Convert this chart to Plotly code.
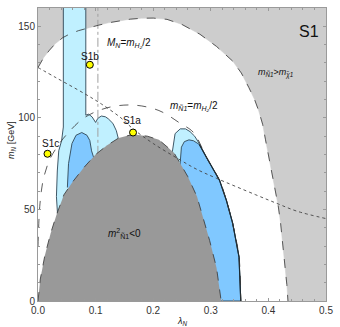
import plotly.graph_objects as go

# ---- data (lambda_N, m_N [GeV]) ----
outer_lam = [0, 0.01, 0.02, 0.03, 0.043, 0.055, 0.07, 0.087, 0.105, 0.122, 0.14, 0.16, 0.18, 0.2, 0.224, 0.25,
             0.281, 0.31, 0.338, 0.353, 0.366, 0.376, 0.383, 0.39, 0.395, 0.4, 0.405, 0.411, 0.417, 0.421,
             0.425, 0.429, 0.432, 0.434]
outer_m   = [127.5, 133, 137, 140.5, 143.8, 145.8, 147.6, 149.2, 150.6, 151.9, 153, 153.9, 154.4, 154.5, 153.8, 151,
             145.7, 139, 131, 124.5, 116.6, 110, 104, 96.5, 88, 80, 71, 61.5, 52, 43, 31.5, 19, 9, 0]

dome_lam = [0, 0.004, 0.012, 0.022, 0.032, 0.045, 0.06, 0.08, 0.1, 0.12, 0.14, 0.165, 0.19, 0.21, 0.236, 0.26, 0.276, 0.298, 0.31, 0.318]
dome_m   = [0, 12, 25, 37, 47, 58, 65, 73, 80, 85, 89, 91, 90, 88, 81, 68, 57, 33, 18, 0]

arc_lam = [0, 0.0034, 0.009, 0.02, 0.035, 0.05, 0.08, 0.12, 0.165, 0.21, 0.247, 0.27, 0.293, 0.315, 0.327, 0.338, 0.349, 0.352]
arc_m   = [30, 53, 66, 77, 85, 91, 100, 105.5, 107, 104, 97, 92, 78, 66, 55, 42, 24, 0]

dot_lam = [0, 0.031, 0.082, 0.11, 0.144, 0.165, 0.2, 0.247, 0.275, 0.31, 0.378, 0.417, 0.45, 0.5]
dot_m   = [127.5, 122, 113, 107.6, 100, 94, 86, 77, 72, 67, 58, 53, 49, 45]

vline_lam = [0.104, 0.104]
vline_m   = [70, 160]

cyan_left_lam = [0.044, 0.044, 0.041, 0.036, 0.0335, 0.032, 0.034, 0.1, 0.141, 0.14, 0.136, 0.13, 0.122, 0.117, 0.11, 0.104, 0.1, 0.094, 0.088, 0.083, 0.083]
cyan_left_m   = [160, 95, 87.6, 82, 71, 57, 47, 50, 85, 88, 93, 97, 99.5, 100.6, 101, 99.8, 97.5, 100.5, 102, 101.5, 160]

cyan_right_lam = [0.234, 0.233, 0.238, 0.247, 0.256, 0.264, 0.272, 0.28, 0.293, 0.315, 0.327, 0.338, 0.349, 0.352, 0.3]
cyan_right_m   = [75, 81, 91.4, 94, 94, 92.5, 90, 86, 78, 66, 55, 42.4, 24, 0, 0]

blue_left_lam = [0.051, 0.053, 0.059, 0.066, 0.076, 0.085, 0.09, 0.093, 0.097, 0.075]
blue_left_m   = [62, 75, 86, 90.5, 92, 90.5, 87.6, 82, 78, 60]

blue_right_lam = [0.246, 0.247, 0.249, 0.254, 0.262, 0.27, 0.28, 0.293, 0.315, 0.327, 0.338, 0.349, 0.352, 0.3]
blue_right_m   = [72, 78, 84, 87, 88, 87.5, 85.5, 78, 66, 55, 42.4, 24, 0, 0]

bench_names = ["S1a", "S1b", "S1c"]
bench_lam   = [0.165, 0.09, 0.0165]
bench_m     = [92, 129, 80.4]

x_ticks = [0.0, 0.1, 0.2, 0.3, 0.4, 0.5]
y_ticks = [0, 50, 100, 150]

LIGHT_GRAY = "#cdcdcd"
DARK_GRAY = "#999999"
CYAN = "#c0f0ff"
BLUE = "#80c8ff"
EDGE = "#2e4656"

fig = go.Figure()

# light gray excluded region (outside the outer boundary)
gray_x = outer_lam + [0.5, 0.5, 0]
gray_y = outer_m + [0, 160, 160]
fig.add_trace(go.Scatter(x=gray_x, y=gray_y, mode="lines", fill="toself",
                         fillcolor=LIGHT_GRAY, line=dict(color=LIGHT_GRAY, width=0.5),
                         hoverinfo="skip", showlegend=False))
# light cyan regions
for lx, ly in [(cyan_left_lam, cyan_left_m), (cyan_right_lam, cyan_right_m)]:
    fig.add_trace(go.Scatter(x=lx, y=ly, mode="lines", fill="toself", fillcolor=CYAN,
                             line=dict(color=EDGE, width=0.9), hoverinfo="skip", showlegend=False))
# vertical dash-dot line
fig.add_trace(go.Scatter(x=vline_lam, y=vline_m, mode="lines",
                         line=dict(color="#a0a0a0", width=1, dash="dashdot"),
                         hoverinfo="skip", showlegend=False))
# medium blue regions
for lx, ly in [(blue_left_lam, blue_left_m), (blue_right_lam, blue_right_m)]:
    fig.add_trace(go.Scatter(x=lx, y=ly, mode="lines", fill="toself", fillcolor=BLUE,
                             line=dict(color=EDGE, width=0.9), hoverinfo="skip", showlegend=False))
# outer right blue edge (solid dark)
fig.add_trace(go.Scatter(x=blue_right_lam[6:13], y=blue_right_m[6:13], mode="lines",
                         line=dict(color="#1a2a33", width=1.2), hoverinfo="skip", showlegend=False))
# dark dome
fig.add_trace(go.Scatter(x=dome_lam, y=dome_m, mode="lines", fill="toself", fillcolor=DARK_GRAY,
                         line=dict(color="#333333", width=0.8, dash="dash"),
                         hoverinfo="skip", showlegend=False))
# inner dashed arc
fig.add_trace(go.Scatter(x=arc_lam, y=arc_m, mode="lines", line_shape="spline",
                         line=dict(color="#333333", width=0.8, dash="dash"),
                         hoverinfo="skip", showlegend=False))
# outer dashed boundary
fig.add_trace(go.Scatter(x=outer_lam, y=outer_m, mode="lines",
                         line=dict(color="#333333", width=0.8, dash="dash"),
                         hoverinfo="skip", showlegend=False))
# dotted curve
fig.add_trace(go.Scatter(x=dot_lam, y=dot_m, mode="lines", line_shape="spline",
                         line=dict(color="#444444", width=0.9, dash="dot"),
                         hoverinfo="skip", showlegend=False))
# benchmark points
fig.add_trace(go.Scatter(x=bench_lam, y=bench_m, mode="markers",
                         marker=dict(color="#ffff00", size=7, line=dict(color="black", width=1)),
                         hoverinfo="skip", showlegend=False))

FONT = "Liberation Sans, Arial, sans-serif"
ann = []
label_pos = {"S1a": (0.163, 98.5), "S1b": (0.09, 133.5), "S1c": (0.021, 86)}
for n in bench_names:
    ann.append(dict(x=label_pos[n][0], y=label_pos[n][1], text=n, showarrow=False,
                    font=dict(size=10, color="#111", family=FONT)))
ann += [
    dict(x=0.471, y=147, text="S1", showarrow=False, font=dict(size=16, color="#111", family=FONT)),
    dict(x=0.158, y=141, text="<i>M<sub>N</sub></i>=<i>m<sub>H₂</sub></i>/2", showarrow=False,
         font=dict(size=10, color="#111", family=FONT)),
    dict(x=0.27, y=106.5, text="<i>m<sub>Ñ1</sub></i>=<i>m<sub>H₂</sub></i>/2", showarrow=False,
         font=dict(size=10, color="#111", family=FONT)),
    dict(x=0.413, y=124.5, text="<i>m<sub>Ñ1</sub></i>><i>m<sub>χ̃1</sub></i>", showarrow=False,
         font=dict(size=9, color="#111", family=FONT)),
    dict(x=0.151, y=37, text="<i>m</i><sup>2</sup><sub>Ñ1</sub><0", showarrow=False,
         font=dict(size=10, color="#111", family=FONT)),
    dict(xref="paper", yref="paper", x=0.5, y=-0.045, yanchor="top",
         text="<i>λ<sub>N</sub></i>", showarrow=False, font=dict(size=9, color="#222", family=FONT)),
    dict(xref="paper", yref="paper", x=-0.09, y=0.55, xanchor="center", textangle=-90,
         text="<i>m<sub>N</sub></i> [GeV]", showarrow=False, font=dict(size=9, color="#222", family=FONT)),
]

axis_common = dict(showgrid=False, zeroline=False, showline=True, linecolor="#9a9a9a", linewidth=1,
                   mirror="allticks", ticks="inside", ticklen=3, tickcolor="#9a9a9a",
                   tickfont=dict(size=10, color="#333", family=FONT))
fig.update_layout(
    width=340, height=327,
    margin=dict(l=38, r=8, t=7, b=26),
    plot_bgcolor="white", paper_bgcolor="white",
    xaxis=dict(range=[0, 0.5], tickvals=x_ticks, ticktext=[f"{v:.1f}" for v in x_ticks],
               minor=dict(ticks="inside", dtick=0.02, ticklen=2, tickcolor="#9a9a9a"), **axis_common),
    yaxis=dict(range=[0, 160], tickvals=y_ticks, ticktext=[str(v) for v in y_ticks],
               minor=dict(ticks="inside", dtick=10, ticklen=2, tickcolor="#9a9a9a"), **axis_common),
    annotations=ann,
    showlegend=False,
)
fig.write_html("out.html")
